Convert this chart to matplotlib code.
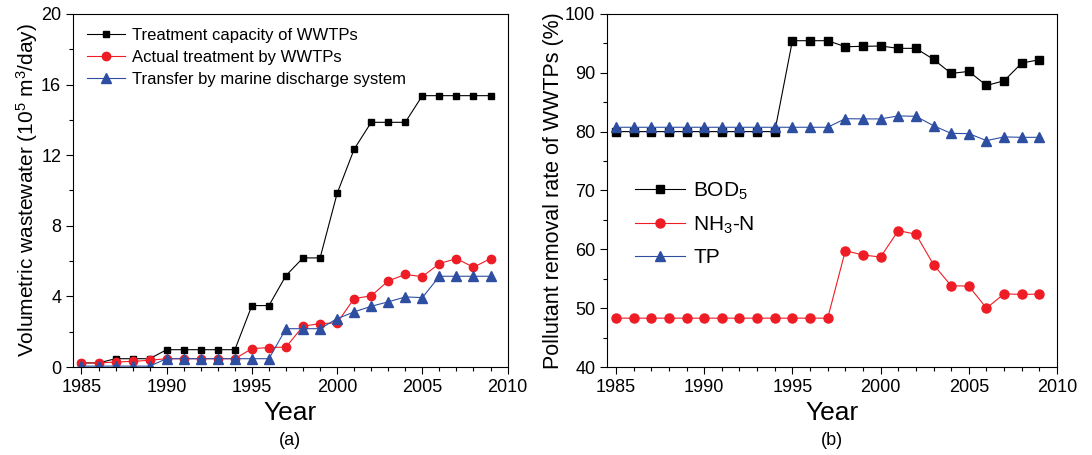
import matplotlib
matplotlib.use('Agg')
import matplotlib.pyplot as plt
from matplotlib.ticker import MultipleLocator

plt.rcParams['font.family'] = ['Liberation Sans', 'DejaVu Sans']
plt.rcParams['mathtext.fontset'] = 'custom'
plt.rcParams['mathtext.rm'] = 'Liberation Sans'
plt.rcParams['mathtext.it'] = 'Liberation Sans:italic'
plt.rcParams['mathtext.bf'] = 'Liberation Sans:bold'
plt.rcParams['mathtext.default'] = 'regular'

years = list(range(1985, 2010))

# panel (a): volumetric wastewater, 10^5 m3/day
capacity = [0.23, 0.23, 0.47, 0.47, 0.47, 0.98, 0.98, 0.98, 0.98, 0.98,
            3.48, 3.48, 5.18, 6.18, 6.18, 9.83, 12.34, 13.86, 13.86, 13.86,
            15.37, 15.37, 15.37, 15.37, 15.37]
actual = [0.23, 0.23, 0.28, 0.32, 0.38, 0.47, 0.47, 0.47, 0.47, 0.47,
          1.04, 1.10, 1.13, 2.31, 2.46, 2.50, 3.88, 4.03, 4.88, 5.24,
          5.12, 5.86, 6.14, 5.65, 6.14]
transfer = [0.05, 0.05, 0.05, 0.05, 0.05, 0.47, 0.47, 0.47, 0.47, 0.47,
            0.47, 0.47, 2.17, 2.17, 2.17, 2.74, 3.12, 3.44, 3.69, 3.97,
            3.93, 5.14, 5.14, 5.14, 5.14]

# panel (b): pollutant removal rate, %
bod5 = [80.0] * 10 + [95.45, 95.45, 95.45, 94.43, 94.49, 94.55, 94.15, 94.15,
                      92.27, 89.89, 90.23, 87.84, 88.64, 91.65, 92.22]
nh3n = [48.3] * 13 + [59.77, 59.03, 58.69, 63.18, 62.56, 57.39, 53.8, 53.75,
                      50.0, 52.44, 52.33, 52.39]
tp = [80.74] * 13 + [82.2, 82.16, 82.16, 82.67, 82.6, 81.0, 79.7, 79.66,
                     78.47, 79.1, 79.03, 79.03]

black = '#000000'
red = '#ee1c24'
blue = '#2e4ea2'

fig = plt.figure(figsize=(10.92, 4.55), dpi=100)
ax1 = fig.add_axes([0.0668, 0.1934, 0.398, 0.776])
ax2 = fig.add_axes([0.556, 0.1934, 0.412, 0.776])

ax1.plot(years, capacity, '-', color=black, lw=0.8, marker='s', ms=5,
         label='Treatment capacity of WWTPs')
ax1.plot(years, actual, '-', color=red, lw=0.8, marker='o', ms=6,
         label='Actual treatment by WWTPs')
ax1.plot(years, transfer, '-', color=blue, lw=0.8, marker='^', ms=6.5,
         label='Transfer by marine discharge system')
ax1.set_ylim(0, 20)
ax1.yaxis.set_major_locator(MultipleLocator(4))
ax1.yaxis.set_minor_locator(MultipleLocator(2))
ax1.set_ylabel('Volumetric wastewater (10$^5$ m$^3$/day)', fontsize=15, labelpad=1)
ax1.legend(loc='upper left', fontsize=12, frameon=False, handlelength=2.3,
           borderaxespad=0.45, labelspacing=0.42, handletextpad=0.4)

ax2.plot(years, bod5, '-', color=black, lw=0.8, marker='s', ms=5.5, label='BOD$_5$')
ax2.plot(years, nh3n, '-', color=red, lw=0.8, marker='o', ms=6.5, label='NH$_3$-N')
ax2.plot(years, tp, '-', color=blue, lw=0.8, marker='^', ms=7, label='TP')
ax2.set_ylim(40, 100)
ax2.yaxis.set_major_locator(MultipleLocator(10))
ax2.yaxis.set_minor_locator(MultipleLocator(5))
ax2.set_ylabel('Pollutant removal rate of WWTPs (%)', fontsize=15.5, labelpad=1)
ax2.legend(loc='center left', bbox_to_anchor=(0.02, 0.405), fontsize=15, frameon=False,
           handlelength=2.4, labelspacing=0.6, handletextpad=0.4)

for ax, tag in ((ax1, '(a)'), (ax2, '(b)')):
    ax.set_xlim(1984.5, 2010)
    ax.xaxis.set_major_locator(MultipleLocator(5))
    ax.xaxis.set_minor_locator(MultipleLocator(1))
    ax.tick_params(which='both', direction='out', top=False, right=False,
                   labelsize=13, width=0.8)
    ax.tick_params(which='major', length=5)
    ax.tick_params(which='minor', length=3)
    ax.set_xlabel('Year', fontsize=19, labelpad=4)
    for sp in ax.spines.values():
        sp.set_linewidth(0.8)
    # panel tag below the x label
    x0, _, w, _ = ax.get_position().bounds
    fig.text(x0 + w / 2, 0.031, tag, ha='center', va='center', fontsize=13)

fig.savefig('out.png', dpi=100)
